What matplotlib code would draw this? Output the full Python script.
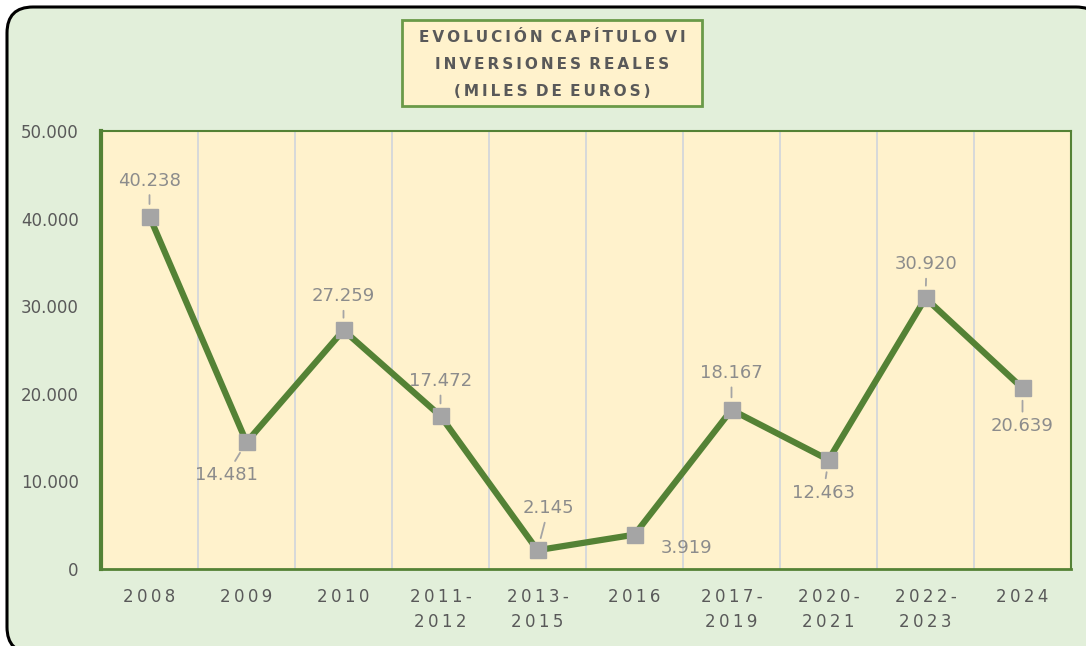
import matplotlib
matplotlib.use("Agg")
import matplotlib.pyplot as plt
from matplotlib.patches import FancyBboxPatch, Rectangle
from matplotlib.transforms import IdentityTransform
from matplotlib.ticker import FuncFormatter, MultipleLocator

categories = ["2008", "2009", "2010", "2011-\n2012", "2013-\n2015", "2016",
              "2017-\n2019", "2020-\n2021", "2022-\n2023", "2024"]
values = [40238, 14481, 27259, 17472, 2145, 3919, 18167, 12463, 30920, 20639]
value_labels = ["40.238", "14.481", "27.259", "17.472", "2.145", "3.919",
                "18.167", "12.463", "30.920", "20.639"]
# label offsets in pixels (dx, dy) and whether a leader line is drawn
label_offsets = [(0, 36), (-20, -33), (0, 34), (0, 35), (11, 42), (52, -13),
                 (0, 37), (-5, -33), (1, 34), (0, -38)]
leaders = [True, True, True, True, True, False, True, True, True, True]
title_lines = ["EVOLUCIÓN CAPÍTULO VI", "INVERSIONES REALES", "(MILES DE EUROS)"]

W, H = 1086, 646
fig = plt.figure(figsize=(W / 100, H / 100), dpi=100)
fig.patch.set_facecolor("white")

def spaced(s, sep="\u2009", wsep=" "):
    out = []
    for line in s.split("\n"):
        words = line.split(" ")
        out.append(wsep.join(sep.join(list(w)) for w in words))
    return "\n".join(out)

# outer rounded frame (in pixel coordinates, partly beyond the image edge)
frame = FancyBboxPatch((7, -7), 1095, 646,
                       boxstyle="round,pad=0,rounding_size=26",
                       transform=IdentityTransform(), facecolor="#E2EFDA",
                       edgecolor="black", linewidth=2.2, zorder=-2)
fig.patches.append(frame)

left, right = 101 / W, 1071 / W
bottom, top = (H - 569) / H, (H - 131) / H
ax = fig.add_axes([left, bottom, right - left, top - bottom])
ax.set_zorder(1)
ax.set_facecolor("#FFF2CC")

x = list(range(len(categories)))
ax.plot(x, values, color="#548235", linewidth=4.5, zorder=3,
        solid_joinstyle="round")
ax.plot(x, values, linestyle="none", marker="s", markersize=12,
        markerfacecolor="#A5A5A5", markeredgecolor="#A5A5A5", zorder=4)

ax.set_xlim(-0.5, len(categories) - 0.5)
ax.set_ylim(0, 50000)
ax.yaxis.set_major_locator(MultipleLocator(10000))
ax.yaxis.set_major_formatter(FuncFormatter(lambda v, p: f"{int(v):,}".replace(",", ".")))
ax.set_xticks(x)
ax.set_xticklabels([spaced(c) for c in categories], linespacing=1.45)
ax.tick_params(axis="both", length=0, colors="#595959", labelsize=12)
ax.tick_params(axis="x", pad=14)
ax.tick_params(axis="y", pad=16)

for b in [i + 0.5 for i in range(len(categories) - 1)]:
    ax.axvline(b, color="#D0D4DC", linewidth=1.2, zorder=1)

for side in ["top", "right"]:
    ax.spines[side].set_color("#548235")
    ax.spines[side].set_linewidth(1.5)
for side in ["left", "bottom"]:
    ax.spines[side].set_color("#548235")
    ax.spines[side].set_linewidth(3 if side == "left" else 2)

for xi, v, lab, (dx, dy), ld in zip(x, values, value_labels, label_offsets, leaders):
    kw = {}
    if ld:
        kw["arrowprops"] = dict(arrowstyle="-", color="#A5A5A5", linewidth=1.3,
                                shrinkA=2, shrinkB=9)
    ax.annotate(lab, xy=(xi, v), xytext=(dx, dy), textcoords="offset pixels",
                ha="center", va="center", fontsize=13, color="#8C8C8C",
                zorder=5, **kw)

# title box
tb = Rectangle((402 / W, (H - 106) / H), 300 / W, 86 / H,
               transform=fig.transFigure, facecolor="#FFF2CC",
               edgecolor="#6A9A48", linewidth=2, zorder=5)
fig.patches.append(tb)
for i, line in enumerate(title_lines):
    yy = 38 + i * 26.5
    fig.text(552 / W, (H - yy) / H, spaced(line, "\u2009", " \u2009"), ha="center",
             va="center", fontsize=11, fontweight="bold", color="#595959",
             zorder=6)

fig.savefig("out.png", dpi=100)
